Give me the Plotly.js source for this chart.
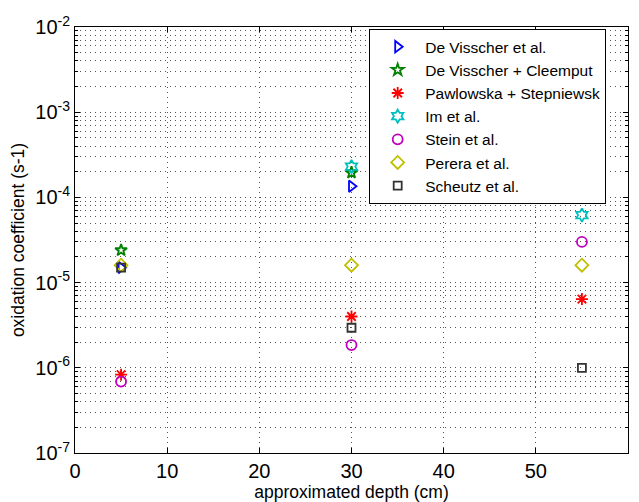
<!DOCTYPE html>
<html>
<head>
<meta charset="utf-8">
<script src="https://cdn.plot.ly/plotly-3.0.1.min.js"></script>
<style>html,body{margin:0;padding:0;background:#fff;}#chart{width:639px;height:502px;}</style>
</head>
<body>
<div id="chart"></div>
<script>
const seriesNames = ["De Visscher et al.", "De Visscher + Cleemput", "Pawlowska + Stepniewsk", "Im et al.", "Stein et al.", "Perera et al.", "Scheutz et al."];
const deVisscherX = [5, 30];
const deVisscherY = [1.5e-5, 1.35e-4];
const cleemputX = [5, 30];
const cleemputY = [2.4e-5, 1.95e-4];
const pawlowskaX = [5, 30, 55];
const pawlowskaY = [8.3e-7, 4.0e-6, 6.4e-6];
const imX = [30, 55];
const imY = [2.3e-4, 6.2e-5];
const steinX = [5, 30, 55];
const steinY = [6.9e-7, 1.85e-6, 3.0e-5];
const pereraX = [5, 30, 55];
const pereraY = [1.6e-5, 1.6e-5, 1.6e-5];
const scheutzX = [5, 30, 55];
const scheutzY = [1.5e-5, 2.95e-6, 1.0e-6];

const yMajor = [1e-7, 1e-6, 1e-5, 1e-4, 1e-3, 1e-2];
const yMajorText = ["10<sup>-7</sup>", "10<sup>-6</sup>", "10<sup>-5</sup>", "10<sup>-4</sup>", "10<sup>-3</sup>", "10<sup>-2</sup>"];
const xTicks = [0, 10, 20, 30, 40, 50, 60];

const yMinor = [];
for (let e = -7; e < -2; e++) {
  for (let m = 2; m <= 9; m++) yMinor.push(m * Math.pow(10, e));
}

const styles = [
  {symbol: "triangle-right-open", color: "#0000ff", size: 10},
  {symbol: "star-open", color: "#008000", size: 9},
  {symbol: "asterisk-open", color: "#ff0000", size: 10},
  {symbol: "hexagram-open", color: "#00bfbf", size: 10},
  {symbol: "circle-open", color: "#bf00bf", size: 10},
  {symbol: "diamond-open", color: "#bfbf00", size: 10},
  {symbol: "square-open", color: "#333333", size: 8}
];
const xs = [deVisscherX, cleemputX, pawlowskaX, imX, steinX, pereraX, scheutzX];
const ys = [deVisscherY, cleemputY, pawlowskaY, imY, steinY, pereraY, scheutzY];

const traces = seriesNames.map((n, i) => ({
  type: "scatter", mode: "markers", name: n, x: xs[i], y: ys[i],
  marker: {symbol: styles[i].symbol, size: styles[i].size, color: styles[i].color,
           line: {color: styles[i].color, width: 1.8}}
}));

const font = "Liberation Sans, Arial, Helvetica, sans-serif";
const gridDash = "1px,4px";
const layout = {
  width: 639, height: 502,
  margin: {l: 75, r: 11, t: 27, b: 49, pad: 0},
  paper_bgcolor: "#fff", plot_bgcolor: "#fff",
  showlegend: true,
  font: {family: font, color: "#000"},
  xaxis: {
    range: [0, 60], tickvals: xTicks, ticktext: xTicks.map(String),
    ticks: "inside", ticklen: 5, tickcolor: "#000", mirror: "allticks",
    showline: true, linecolor: "#000", linewidth: 1,
    showgrid: true, gridcolor: "#555", griddash: gridDash, gridwidth: 1,
    zeroline: false, tickfont: {size: 20, family: font},
    title: {text: "approximated depth (cm)", font: {size: 17.5, family: font}, standoff: 2}
  },
  yaxis: {
    type: "log", range: [-7, -2], tickvals: yMajor, ticktext: yMajorText,
    ticks: "inside", ticklen: 5, tickcolor: "#000", mirror: "allticks",
    showline: true, linecolor: "#000", linewidth: 1,
    showgrid: true, gridcolor: "#555", griddash: gridDash, gridwidth: 1,
    zeroline: false, tickfont: {size: 20, family: font},
    minor: {tickvals: yMinor, ticks: "inside", ticklen: 3, tickcolor: "#000",
            showgrid: true, gridcolor: "#555", griddash: gridDash, gridwidth: 1},
    title: {text: "oxidation coefficient (s-1)", font: {size: 17.5, family: font}, standoff: 6}
  },
  legend: {
    x: 0.532, y: 0.995, xanchor: "left", yanchor: "top",
    bgcolor: "#fff", bordercolor: "#000", borderwidth: 1,
    font: {size: 15.5, family: font}, tracegroupgap: 0, itemwidth: 45
  }
};
Plotly.newPlot("chart", traces, layout, {displayModeBar: false, staticPlot: true});
</script>
</body>
</html>
